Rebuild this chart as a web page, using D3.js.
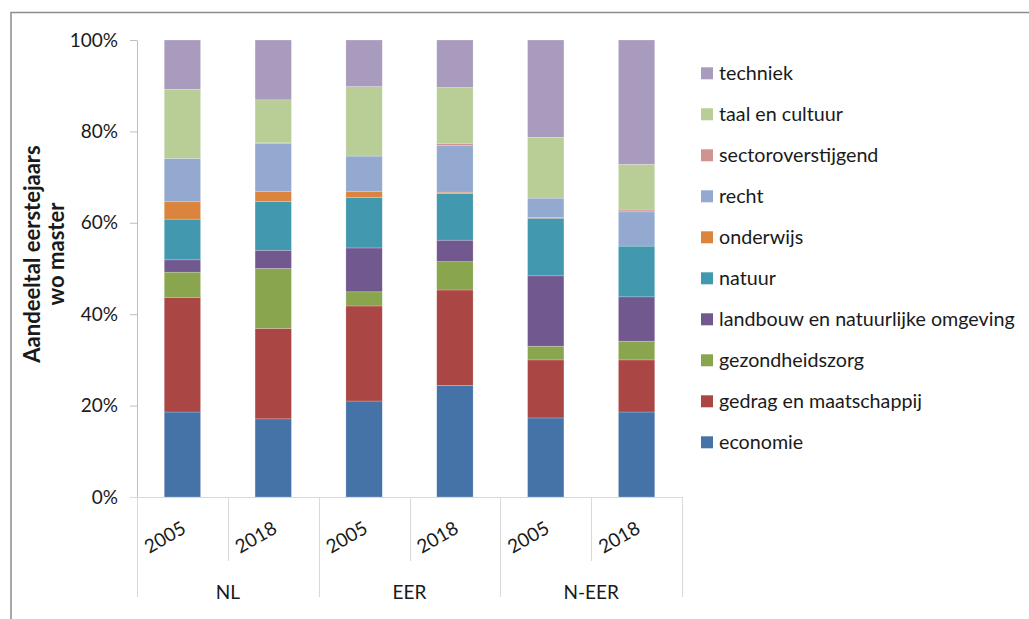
<!DOCTYPE html>
<html>
<head>
<meta charset="utf-8">
<script src="https://cdn.jsdelivr.net/npm/d3@7"></script>
<style>
  body { margin: 0; background: #fff; }
  text { font-family: Lato, 'Open Sans', sans-serif; fill: #1a1a1a; }
</style>
</head>
<body>
<svg id="chart" width="1029" height="619"></svg>
<script>
'use strict';

// data (percent of first-year master students)
var groups = ['NL', 'EER', 'N-EER'];
var years = ['2005', '2018'];
var categories = ['economie', 'gedrag en maatschappij', 'gezondheidszorg',
  'landbouw en natuurlijke omgeving', 'natuur', 'onderwijs', 'recht',
  'sectoroverstijgend', 'taal en cultuur', 'techniek'];
var colors = ['#4572A7', '#AA4643', '#89A54E', '#71588F', '#4198AF',
  '#DB843D', '#93A9CF', '#D19392', '#B9CD96', '#A99BBD'];
var yTicks = [0, 20, 40, 60, 80, 100];

// one value per bar: NL 2005, NL 2018, EER 2005, EER 2018, N-EER 2005, N-EER 2018
var economie    = [18.6, 17.1, 21.0, 24.4, 17.3, 18.6];
var gedrag      = [25.1, 19.8, 20.8, 20.9, 12.7, 11.4];
var gezondheid  = [5.5, 13.1, 3.1, 6.2, 3.0, 4.1];
var landbouw    = [2.7, 4.0, 9.6, 4.7, 15.4, 9.7];
var natuur      = [8.9, 10.7, 11.0, 10.2, 12.6, 11.1];
var onderwijs   = [3.8, 2.2, 1.4, 0.3, 0.2, 0.0];
var recht       = [9.5, 10.4, 7.7, 10.2, 4.2, 7.5];
var sector      = [0.0, 0.2, 0.0, 0.5, 0.0, 0.4];
var taal        = [15.1, 9.4, 15.2, 12.2, 13.3, 10.0];
var techniek    = [10.8, 13.1, 10.2, 10.4, 21.3, 27.2];

var series = [economie, gedrag, gezondheid, landbouw, natuur, onderwijs,
  recht, sector, taal, techniek];

// build rows for d3.stack
var rows = [], g, yi, i = 0;
for (g = 0; g < groups.length; g++) {
  for (yi = 0; yi < years.length; yi++) {
    var row = { key: groups[g] + ' ' + years[yi], group: groups[g], year: years[yi] };
    categories.forEach(function (c, k) { row[c] = series[k][i]; });
    rows.push(row);
    i++;
  }
}

var svg = d3.select('#chart');
var plotLeft = 137, plotRight = 682, plotTop = 40, plotBottom = 497;

// outer frame
svg.append('rect')
    .attr('x', 11).attr('y', 12.5)
    .attr('width', 1040).attr('height', 640)
    .style('fill', 'none')
    .style('stroke', '#8c8c8c')
    .style('stroke-width', 1.5);

var x = d3.scaleBand()
    .domain(rows.map(function (d) { return d.key; }))
    .range([plotLeft, plotRight])
    .paddingInner(0.6)
    .paddingOuter(0.3);
var step = x.step();

var y = d3.scaleLinear().domain([0, 100]).range([plotBottom, plotTop]);
var color = d3.scaleOrdinal().domain(categories).range(colors);

var stacked = d3.stack().keys(categories)(rows);

// bars
var layer = svg.append('g').selectAll('g')
    .data(stacked)
    .enter().append('g')
    .style('fill', function (d) { return color(d.key); });

layer.selectAll('rect')
    .data(function (d) { return d; })
    .enter().append('rect')
    .attr('x', function (d) { return x(d.data.key); })
    .attr('y', function (d) { return y(d[1]); })
    .attr('width', x.bandwidth())
    .attr('height', function (d) { return Math.max(0, y(d[0]) - y(d[1])); })
    .style('stroke', 'rgba(255,255,255,0.35)')
    .style('stroke-width', 0.6);

// y axis
var yAxis = svg.append('g')
    .attr('transform', 'translate(' + plotLeft + ',0)')
    .call(d3.axisLeft(y).tickValues(yTicks).tickSize(7).tickSizeOuter(0)
      .tickFormat(function (d) { return d + '%'; }));
yAxis.select('.domain').style('stroke', '#bfbfbf');
yAxis.selectAll('.tick line').style('stroke', '#bfbfbf');
yAxis.selectAll('.tick text')
    .attr('x', -19)
    .style('font-size', '19px')
    .style('font-family', 'Lato, sans-serif')
    .style('fill', '#1a1a1a');

// y axis title
var title = svg.append('text')
    .attr('transform', 'translate(45,254) rotate(-90)')
    .style('text-anchor', 'middle')
    .style('font-size', '22px')
    .style('font-weight', 'bold');
title.append('tspan').attr('x', 0).attr('dy', '-0.25em').text('Aandeeltal eerstejaars');
title.append('tspan').attr('x', 0).attr('dy', '1.1em').text('wo master');

// x axis: base line and separators
var axis = svg.append('g').style('stroke', '#d9d9d9').style('stroke-width', 1);
axis.append('line')
    .attr('x1', plotLeft - 7).attr('x2', plotRight)
    .attr('y1', plotBottom + 0.5).attr('y2', plotBottom + 0.5);
for (i = 0; i <= rows.length; i++) {
  var sx = Math.round(plotLeft + i * step) + 0.5;
  axis.append('line')
      .attr('x1', sx).attr('x2', sx)
      .attr('y1', plotBottom)
      .attr('y2', i % 2 === 0 ? 597 : 561);
}

// year labels
svg.append('g').selectAll('text')
    .data(rows)
    .enter().append('text')
    .attr('transform', function (d) {
      return 'translate(' + (x(d.key) + x.bandwidth() / 2 + 5) + ',532) rotate(-30)';
    })
    .style('text-anchor', 'end')
    .style('font-size', '19px')
    .text(function (d) { return d.year; });

// group labels
svg.append('g').selectAll('text')
    .data(groups)
    .enter().append('text')
    .attr('x', function (d, k) { return plotLeft + step * (2 * k + 1); })
    .attr('y', 599)
    .style('text-anchor', 'middle')
    .style('font-size', '19px')
    .text(function (d) { return d; });

// legend, top item is the last series
var legend = svg.append('g').selectAll('g')
    .data(categories.slice().reverse())
    .enter().append('g')
    .attr('transform', function (d, k) { return 'translate(701,' + (73.3 + k * 41) + ')'; });

legend.append('rect')
    .attr('x', 0).attr('y', -6)
    .attr('width', 12).attr('height', 12)
    .style('fill', function (d) { return color(d); });

legend.append('text')
    .attr('x', 18)
    .attr('dy', '0.35em')
    .style('font-size', '19.7px')
    .text(function (d) { return d; });
</script>
</body>
</html>
